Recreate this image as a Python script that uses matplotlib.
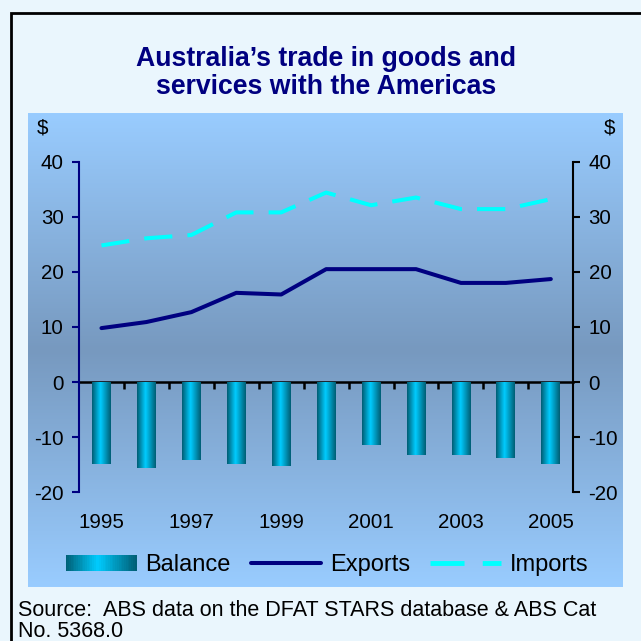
import numpy as np
import matplotlib
matplotlib.use("Agg")
from matplotlib import pyplot as plt
from matplotlib.colors import LinearSegmentedColormap
from matplotlib.patches import Rectangle
from matplotlib.lines import Line2D
from matplotlib.legend_handler import HandlerBase

# values ($ billion)
years = [1995, 1996, 1997, 1998, 1999, 2000, 2001, 2002, 2003, 2004, 2005]
exports = [9.8, 10.9, 12.7, 16.2, 15.9, 20.5, 20.5, 20.5, 18.0, 18.0, 18.7]
imports = [24.8, 26.1, 26.7, 30.8, 30.8, 34.4, 32.1, 33.5, 31.4, 31.4, 33.2]
balance = [-14.8, -15.5, -14.1, -14.8, -15.2, -14.1, -11.5, -13.3, -13.3, -13.7, -14.8]
year_labels = [1995, 1997, 1999, 2001, 2003, 2005]
y_ticks = [-20, -10, 0, 10, 20, 30, 40]

title = "Australia\u2019s trade in goods and\nservices with the Americas"
source = "Source:  ABS data on the DFAT STARS database & ABS Cat\nNo. 5368.0"

plt.rcParams['font.family'] = ['Liberation Sans', 'DejaVu Sans']
plt.rcParams['axes.unicode_minus'] = False

W = 641.0
def fx(px):
    return px / W
def fy(py):
    return 1 - py / W

outer_bg = '#EAF6FD'
navy = '#000080'
bar_cmap = LinearSegmentedColormap.from_list(
    'bar', [(0, '#005E74'), (0.45, '#00CCFF'), (1, '#005E74')])
panel_cmap = LinearSegmentedColormap.from_list(
    'panel', [(0, '#99CCFF'), (0.5, '#7799BF'), (1, '#99CCFF')])

fig = plt.figure(figsize=(6.41, 6.41), dpi=100, facecolor=outer_bg)

# outer frame (runs off the right and bottom edges)
fig.add_artist(Rectangle((fx(11), -0.1), 1.2, fy(13) + 0.1, transform=fig.transFigure,
                         fill=False, edgecolor='black', lw=2.0, zorder=0))

# gradient panel behind the chart
bg = fig.add_axes([fx(28), fy(587), fx(623 - 28), (587 - 113) / W], zorder=0)
bg.imshow(np.linspace(0, 1, 256).reshape(-1, 1), aspect='auto', cmap=panel_cmap,
          extent=[0, 1, 0, 1], origin='upper')
bg.axis('off')

ax = fig.add_axes([fx(79), fy(492.3), fx(573.3 - 79), (492.3 - 161.7) / W], zorder=1)
ax.patch.set_visible(False)

# bars with a horizontal gradient, clipped to each bar
bar_w = 0.42
bars = ax.bar(years, balance, width=bar_w, facecolor='none', edgecolor='none', zorder=2)
grad = np.linspace(0, 1, 64).reshape(1, -1)
for b in bars:
    x0 = b.get_x()
    y0 = b.get_y()
    im = ax.imshow(grad, cmap=bar_cmap, aspect='auto', zorder=2,
                   extent=[x0, x0 + b.get_width(), y0 + b.get_height(), y0])
    im.set_clip_path(b)

ax.plot(years, exports, color=navy, lw=2.9, solid_capstyle='round', zorder=3)
ax.plot(years, imports, color='#00FFFF', lw=2.9, dashes=(7, 3.75), zorder=3)

ax.set_xlim(1994.5, 2005.5)
ax.set_ylim(-20, 40)
ax.set_aspect('auto')

for s in ['top', 'bottom', 'right']:
    ax.spines[s].set_visible(False)
ax.spines['left'].set_color(navy)
ax.spines['left'].set_linewidth(1.5)
ax.set_yticks(y_ticks)
ax.tick_params(axis='y', direction='out', length=5, width=1.5, color=navy,
               labelcolor='black', labelsize=14.8, pad=6)
ax.set_xticks(year_labels)
ax.tick_params(axis='x', length=0, labelsize=14.8, pad=15)

# right axis
ax2 = ax.twinx()
ax2.set_ylim(-20, 40)
ax2.set_yticks(y_ticks)
for s in ['top', 'bottom', 'left']:
    ax2.spines[s].set_visible(False)
ax2.spines['right'].set_linewidth(1.5)
ax2.tick_params(axis='y', direction='out', length=5, width=1.5, color='black',
                labelsize=14.8, pad=6)

# zero line with category dividers
zero = ax.secondary_xaxis(1 / 3)
zero.spines['bottom'].set_linewidth(1.8)
zero.set_xticks([y + 0.5 for y in years[:-1]])
zero.tick_params(axis='x', direction='out', length=5, width=1.8, labelbottom=False)

fig.text(fx(43), fy(128), '$', fontsize=14.8, ha='center', va='center')
fig.text(fx(609.5), fy(128), '$', fontsize=14.8, ha='center', va='center')

fig.text(fx(326.5), fy(73), title, fontsize=19.2, fontweight='bold', color=navy,
         ha='center', va='center', linespacing=1.1)

fig.text(fx(18.5), fy(621), source, fontsize=15.5, ha='left', va='center', linespacing=1.05)


class GradientHandler(HandlerBase):
    def create_artists(self, legend, orig_handle, xdescent, ydescent, width, height,
                       fontsize, trans):
        n = 40
        out = []
        for i in range(n):
            r = Rectangle((-xdescent + i * width / n, -ydescent), width / n * 1.05, height,
                          facecolor=bar_cmap((i + 0.5) / n), lw=0, transform=trans)
            out.append(r)
        return out


h_bal = Rectangle((0, 0), 1, 1)
h_exp = Line2D([], [], color=navy, lw=2.9, solid_capstyle='round')
h_imp = Line2D([], [], color='#00FFFF', lw=3.5, dashes=(7, 3.75))
fig.legend([h_bal, h_exp, h_imp], ['Balance', 'Exports', 'Imports'],
           handler_map={Rectangle: GradientHandler()},
           loc='center', bbox_to_anchor=(fx(327), fy(565)), ncol=3, frameon=False,
           fontsize=17, handlelength=3.0, handletextpad=0.36, columnspacing=0.86,
           borderpad=0, handleheight=0.65)

plt.savefig('out.png', dpi=100, facecolor=outer_bg)
